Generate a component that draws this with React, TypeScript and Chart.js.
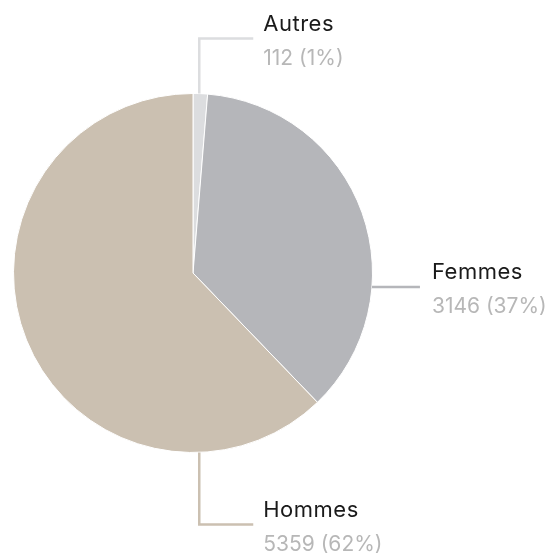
import React, { useEffect, useRef } from "react";
import { Chart, registerables } from "chart.js";

Chart.register(...registerables);

// ---- data ----
const categories = ["Autres", "Femmes", "Hommes"];
const values = [112, 3146, 5359];
const colors = ["#dcdddf", "#b5b6ba", "#cbc0b1"];

// ---- leader line styles (per slice) ----
const leaders = [
  { side: "top", angle: 2, reach: 55, run: 54, gap: 10 },
  { side: "right", angle: 94.5, reach: 48, run: 0, gap: 12 },
  { side: "bottom", angle: 178, reach: 72, run: 54, gap: 10 },
];

const NAME_FONT = '22px "Inter"';
const VALUE_FONT = '21px "Inter"';
const NAME_COLOR = "#1a1a1a";
const VALUE_COLOR = "#b7b7b7";

const labelPlugin = {
  id: "leaderLabels",
  afterDraw(chart: any) {
    const ctx = chart.ctx as CanvasRenderingContext2D;
    const meta = chart.getDatasetMeta(0);
    const total = values.reduce((a, b) => a + b, 0);
    meta.data.forEach((arc: any, i: number) => {
      const { x, y, outerRadius } = arc.getProps(["x", "y", "outerRadius"], true);
      const L = leaders[i];
      const a = ((L.angle - 90) * Math.PI) / 180;
      const px = x + outerRadius * Math.cos(a);
      const py = y + outerRadius * Math.sin(a);
      let lineY = py;
      let endX = px;
      ctx.save();
      ctx.strokeStyle = colors[i];
      ctx.lineWidth = 2.5;
      ctx.lineCap = "butt";
      ctx.lineJoin = "miter";
      ctx.beginPath();
      ctx.moveTo(px, py);
      if (L.side === "top") {
        lineY = y - outerRadius - L.reach;
        endX = px + L.run;
        ctx.lineTo(px, lineY);
        ctx.lineTo(endX, lineY);
      } else if (L.side === "bottom") {
        lineY = y + outerRadius + L.reach;
        endX = px + L.run;
        ctx.lineTo(px, lineY);
        ctx.lineTo(endX, lineY);
      } else {
        endX = px + L.reach;
        ctx.lineTo(endX, lineY);
      }
      ctx.stroke();

      const tx = endX + L.gap;
      const pct = Math.round((values[i] / total) * 100);
      ctx.textAlign = "left";
      ctx.textBaseline = "alphabetic";
      ctx.font = NAME_FONT;
      (ctx as any).letterSpacing = "0.5px";
      ctx.fillStyle = NAME_COLOR;
      ctx.fillText(categories[i], tx, lineY - 8);
      (ctx as any).letterSpacing = "0px";
      ctx.font = VALUE_FONT;
      ctx.fillStyle = VALUE_COLOR;
      ctx.fillText(`${values[i]} (${pct}%)`, tx, lineY + 26);
      ctx.restore();
    });
  },
};

export default function App() {
  const ref = useRef<HTMLCanvasElement | null>(null);
  useEffect(() => {
    if (!ref.current) return;
    const chart = new Chart(ref.current, {
      type: "pie",
      data: {
        labels: categories,
        datasets: [
          {
            data: values,
            backgroundColor: colors,
            borderColor: "#ffffff",
            borderWidth: 1,
          },
        ],
      },
      options: {
        responsive: false,
        animation: false,
        devicePixelRatio: 1,
        layout: { padding: { left: 13, top: 93, right: 178, bottom: 103 } },
        plugins: {
          legend: { display: false },
          tooltip: { enabled: false },
        },
      },
      plugins: [labelPlugin],
    });
    return () => chart.destroy();
  }, []);
  return (
    <div style={{ position: "absolute", left: 0, top: 0, width: 551, height: 556 }}>
      <canvas ref={ref} width={551} height={556} style={{ display: "block" }} />
    </div>
  );
}
